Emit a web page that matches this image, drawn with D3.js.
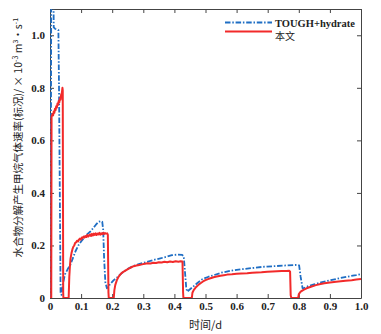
<!DOCTYPE html>
<html>
<head>
<meta charset="utf-8">
<script src="https://cdn.jsdelivr.net/npm/d3@7"></script>
<style>
  html, body { margin: 0; padding: 0; background: #fff; }
  svg { display: block; }
  .tick text { font-family: "Liberation Serif", "DejaVu Serif", serif; font-weight: bold; font-size: 11px; fill: #222; }
</style>
</head>
<body>
<svg id="chart" width="381" height="334"></svg>
<script>
// TOUGH+hydrate reference simulation (time in days, rate in 1e-3 m^3/s)
const toughTime = [0, 0.002, 0.004, 0.011, 0.012, 0.016, 0.022, 0.027, 0.029, 0.034, 0.037, 0.041, 0.048, 0.057, 0.065, 0.073, 0.082, 0.091, 0.1, 0.11, 0.12, 0.129, 0.138, 0.147, 0.156, 0.165, 0.168, 0.171, 0.174, 0.178, 0.183, 0.195, 0.205, 0.215, 0.23, 0.247, 0.265, 0.283, 0.301, 0.32, 0.337, 0.355, 0.375, 0.392, 0.41, 0.425, 0.43, 0.434, 0.438, 0.441, 0.455, 0.473, 0.49, 0.51, 0.527, 0.55, 0.581, 0.62, 0.65, 0.688, 0.72, 0.76, 0.796, 0.801, 0.806, 0.812, 0.815, 0.83, 0.849, 0.875, 0.903, 0.93, 0.955, 0.984, 1.0];
const toughRate = [0, 0, 1.2, 1.2, 1.03, 1.025, 1.022, 1.02, 0.8, 0.02, 0.012, 0.05, 0.09, 0.11, 0.125, 0.15, 0.178, 0.2, 0.215, 0.23, 0.243, 0.252, 0.265, 0.278, 0.29, 0.293, 0.29, 0.26, 0.15, 0.06, 0.037, 0.055, 0.068, 0.077, 0.094, 0.109, 0.12, 0.128, 0.134, 0.14, 0.146, 0.151, 0.157, 0.163, 0.165, 0.164, 0.158, 0.1, 0.04, 0.024, 0.038, 0.056, 0.072, 0.081, 0.087, 0.096, 0.104, 0.11, 0.114, 0.119, 0.121, 0.124, 0.126, 0.124, 0.08, 0.038, 0.037, 0.045, 0.052, 0.06, 0.068, 0.075, 0.081, 0.087, 0.091];

// Present model (本文)
const modelTime = [0, 0.004, 0.005, 0.008, 0.010, 0.012, 0.014, 0.016, 0.018, 0.020, 0.022, 0.024, 0.026, 0.028, 0.030, 0.032, 0.034, 0.036, 0.038, 0.040, 0.041, 0.0425, 0.043,
  0.060, 0.062, 0.064, 0.066, 0.069, 0.072, 0.075, 0.078, 0.081, 0.084, 0.087, 0.090, 0.093, 0.096, 0.099, 0.102, 0.105, 0.108, 0.111, 0.114, 0.117, 0.120, 0.123, 0.126, 0.129, 0.132, 0.135, 0.138, 0.141, 0.144, 0.147, 0.150, 0.153, 0.156, 0.159, 0.162, 0.165, 0.168, 0.171, 0.174, 0.177, 0.180, 0.184, 0.186, 0.188, 0.189,
  0.205, 0.207, 0.210, 0.215, 0.220, 0.225, 0.230, 0.237, 0.245, 0.253, 0.260, 0.269, 0.278, 0.287, 0.296, 0.305, 0.314, 0.323, 0.332, 0.341, 0.350, 0.359, 0.368, 0.377, 0.386, 0.395, 0.404, 0.413, 0.420, 0.426, 0.428, 0.429,
  0.456, 0.458, 0.462, 0.470, 0.478, 0.484, 0.492, 0.500, 0.508, 0.516, 0.526, 0.536, 0.548, 0.559, 0.570, 0.585, 0.600, 0.615, 0.634, 0.650, 0.665, 0.680, 0.699, 0.715, 0.730, 0.745, 0.760, 0.769, 0.772, 0.774, 0.776,
  0.798, 0.800, 0.806, 0.815, 0.825, 0.839, 0.855, 0.870, 0.882, 0.900, 0.920, 0.935, 0.950, 0.970, 0.985, 1.0];
const modelRate = [0, 0, 0.69, 0.70, 0.695, 0.71, 0.705, 0.72, 0.715, 0.73, 0.725, 0.74, 0.735, 0.75, 0.745, 0.76, 0.755, 0.775, 0.78, 0.80, 0.79, 0.02, 0,
  0, 0.08, 0.12, 0.15, 0.17, 0.185, 0.195, 0.20, 0.21, 0.212, 0.218, 0.215, 0.222, 0.226, 0.222, 0.23, 0.228, 0.234, 0.23, 0.236, 0.232, 0.24, 0.234, 0.238, 0.242, 0.236, 0.244, 0.238, 0.245, 0.24, 0.246, 0.24, 0.245, 0.242, 0.248, 0.241, 0.246, 0.243, 0.248, 0.244, 0.247, 0.245, 0.246, 0.24, 0.02, 0,
  0, 0.03, 0.05, 0.068, 0.08, 0.088, 0.095, 0.1, 0.106, 0.112, 0.116, 0.121, 0.124, 0.126, 0.128, 0.13, 0.132, 0.131, 0.134, 0.133, 0.136, 0.135, 0.138, 0.136, 0.139, 0.137, 0.14, 0.138, 0.14, 0.139, 0.02, 0,
  0, 0.02, 0.03, 0.042, 0.051, 0.056, 0.063, 0.068, 0.072, 0.075, 0.079, 0.082, 0.085, 0.087, 0.089, 0.09, 0.092, 0.093, 0.094, 0.096, 0.097, 0.098, 0.1, 0.101, 0.102, 0.103, 0.103, 0.104, 0.1, 0.01, 0,
  0, 0.015, 0.024, 0.031, 0.037, 0.043, 0.049, 0.053, 0.056, 0.059, 0.062, 0.064, 0.066, 0.068, 0.07, 0.072];

const xTicks = [0, 0.1, 0.2, 0.3, 0.4, 0.5, 0.6, 0.7, 0.8, 0.9, 1.0];
const yTicks = [0, 0.2, 0.4, 0.6, 0.8, 1.0];
const seriesNames = ["TOUGH+hydrate", "本文"];
const xTitle = "时间/d";
const yTitleMain = "水合物分解产生甲烷气体速率(标况)/ × 10";

const svg = d3.select("#chart");
const m = { left: 50, right: 20, top: 9, bottom: 36 };
const W = 381, H = 334;
const x = d3.scaleLinear().domain([0, 1]).range([m.left, W - m.right]);
const y = d3.scaleLinear().domain([0, 1.1]).range([H - m.bottom, m.top]);

const fmt = d => d === 0 ? "0" : d.toFixed(1);
const frame = "#444";

svg.append("defs").append("clipPath").attr("id", "plotclip")
  .append("rect").attr("x", x(0)).attr("y", y(1.1)).attr("width", x(1) - x(0)).attr("height", y(0) - y(1.1));

// axes with inward ticks on all four sides
const axBottom = svg.append("g").attr("transform", `translate(0,${y(0)})`)
  .call(d3.axisBottom(x).tickValues(xTicks).tickFormat(fmt).tickSizeInner(-4).tickSizeOuter(0).tickPadding(4));
const axLeft = svg.append("g").attr("transform", `translate(${x(0)},0)`)
  .call(d3.axisLeft(y).tickValues(yTicks).tickFormat(fmt).tickSizeInner(-4).tickSizeOuter(0).tickPadding(5));
const axTop = svg.append("g").attr("transform", `translate(0,${y(1.1)})`)
  .call(d3.axisTop(x).tickValues(xTicks).tickFormat("").tickSizeInner(-4).tickSizeOuter(0));
const axRight = svg.append("g").attr("transform", `translate(${x(1)},0)`)
  .call(d3.axisRight(y).tickValues(yTicks).tickFormat("").tickSizeInner(-4).tickSizeOuter(0));
[axBottom, axLeft, axTop, axRight].forEach(g => {
  g.selectAll(".domain").attr("stroke", frame).attr("stroke-width", 1);
  g.selectAll(".tick line").attr("stroke", frame);
});

const line = d3.line().x(d => x(d[0])).y(d => y(d[1]));
const toughPts = toughTime.map((t, i) => [t, toughRate[i]]);
const modelPts = modelTime.map((t, i) => [t, modelRate[i]]);

const blue = "#1f6ec4", red = "#f22a2a";
const dash = "5.5,1.8,1.5,1.8";

const plot = svg.append("g").attr("clip-path", "url(#plotclip)");
plot.append("path").datum(toughPts).attr("d", line)
  .attr("fill", "none").attr("stroke", blue).attr("stroke-width", 1.8)
  .attr("stroke-dasharray", dash).attr("stroke-linejoin", "round");
plot.append("path").datum(modelPts).attr("d", line)
  .attr("fill", "none").attr("stroke", red).attr("stroke-width", 2)
  .attr("stroke-linejoin", "round");

// legend: sample lines and labels
const leg = svg.append("g");
const legLineY = [22.5, 31.5];
const legTextY = [26.5, 39.5];
[[blue, dash, 1.8], [red, null, 2]].forEach((s, i) => {
  leg.append("line").attr("x1", 225).attr("x2", 272).attr("y1", legLineY[i]).attr("y2", legLineY[i])
    .attr("stroke", s[0]).attr("stroke-width", s[2]).attr("stroke-dasharray", s[1]);
  leg.append("text").attr("x", 275).attr("y", legTextY[i])
    .attr("font-family", i === 0 ? "Liberation Serif, serif" : "Noto Sans CJK SC, sans-serif")
    .attr("font-weight", i === 0 ? "bold" : "normal")
    .attr("font-size", i === 0 ? 10.5 : 10).attr("fill", "#222").text(seriesNames[i]);
});

// axis titles
svg.append("text").attr("x", x(0.5)).attr("y", 329).attr("text-anchor", "middle")
  .attr("font-family", "Noto Sans CJK SC, sans-serif").attr("font-size", 11).attr("fill", "#222")
  .text(xTitle);

const yt = svg.append("text").attr("transform", `translate(22,${y(0.61)}) rotate(-90)`)
  .attr("text-anchor", "middle").attr("font-family", "Noto Sans CJK SC, sans-serif")
  .attr("font-size", 10.5).attr("fill", "#222");
yt.append("tspan").text(yTitleMain);
yt.append("tspan").attr("dy", -4).attr("font-size", 7).text("-3");
yt.append("tspan").attr("dy", 4).text(" m");
yt.append("tspan").attr("dy", -4).attr("font-size", 7).text("3");
yt.append("tspan").attr("dy", 4).text("·s");
yt.append("tspan").attr("dy", -4).attr("font-size", 7).text("-1");
</script>
</body>
</html>
